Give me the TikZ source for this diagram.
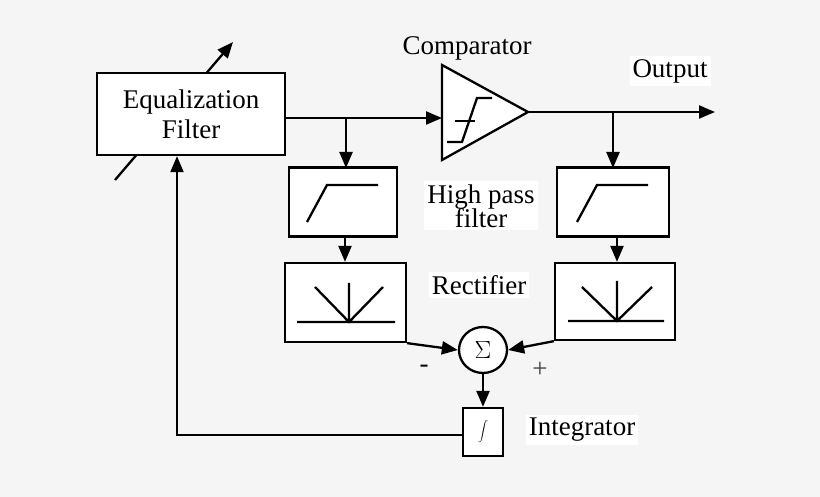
\documentclass[tikz,border=0pt]{standalone}
\usepackage{fontspec}
\setmainfont{Liberation Serif}
\usetikzlibrary{arrows.meta,shapes.geometric}
\begin{document}
\begin{tikzpicture}[x=1pt,y=-1pt,line width=2.3pt,
  blk/.style={draw,fill=white,inner sep=0pt},
  lbl/.style={fill=white,align=center,inner sep=3pt},
  arr/.style={-{Triangle[length=16pt,width=13pt]}},
  every node/.style={font=\fontsize{27}{30}\selectfont}]
\fill[black!4] (0,0) rectangle (820,497);
\useasboundingbox (0,0) rectangle (820,497);
% equalization filter
\coordinate (d1) at (115,180); \coordinate (d2) at (233,42);
\draw[arr] (d1) -- (d2);
\node[blk,minimum width=188pt,minimum height=82pt,align=center] (eq) at (191,114) {Equalization\\Filter};
% comparator
\coordinate (ca) at (442,65); \coordinate (cb) at (442,160); \coordinate (ct) at (528,112);
\draw[fill=white,line join=miter] (ca) -- (ct) -- (cb) -- cycle;
\draw (447,142) -- (462,142) -- (477,98) -- (492,98);
\draw (455,121) -- (475,121);
\node[lbl,fill=none] (cl) at (467,48) {Comparator};
\coordinate (cin) at (442,118);
\draw[arr] (eq.east |- 0,118) -- (cin);
\coordinate (out) at (715,112);
\draw[arr] (ct) -- (out);
\node[lbl] (ol) at (670,71) {Output};
% left branch
\node[blk,minimum width=108pt,minimum height=69pt] (hp1) at (343,202) {};
\draw (307,222) -- (327,185) -- (378,185);
\node[blk,minimum width=121pt,minimum height=79pt] (r1) at (345.5,302.5) {};
\draw (297,322) -- (395,322) (349,322) -- (349,283) (315,287) -- (349,322) -- (383,287);
\coordinate (b1) at (346,118);
\draw[arr] (b1) -- (346,168);
\draw[arr] (hp1.south -| 345,0) -- (r1.north -| 345,0);
% right branch
\node[blk,minimum width=112pt,minimum height=69pt] (hp2) at (613,202) {};
\draw (577,222) -- (597,185) -- (648,185);
\node[blk,minimum width=120pt,minimum height=77pt] (r2) at (615,301.5) {};
\draw (568,321) -- (664,321) (617,321) -- (617,281) (582,287) -- (617,321) -- (652,287);
\coordinate (b2) at (613,112);
\draw[arr] (b2) -- (613,168);
\draw[arr] (hp2.south -| 617,0) -- (r2.north -| 617,0);
% labels
\node[lbl] (hl) at (481,206) {High pass\\[-6pt]filter};
\node[lbl] (rl) at (479,285) {Rectifier};
% sum
\node[draw,fill=white,ellipse,minimum width=48pt,minimum height=46pt,inner sep=0pt] (s) at (483,350) {$\Sigma$};
\draw[arr] (r1.south east) -- (s.west);
\draw[arr] (r2.south west) -- (s.east);
\node (m) at (424,369) {-};
\node[text=black!75] (p) at (540,370) {+};
% integrator
\node[blk,minimum width=40pt,minimum height=48pt] (int) at (483,432) {$\displaystyle\int$};
\draw[arr] (s.south) -- (int.north);
\node[lbl] (il) at (582,430) {Integrator};
\coordinate (fb) at (177,435);
\draw[arr,line width=2pt] (int.west |- fb) -- (fb) -- (eq.south -| fb);
\end{tikzpicture}
\end{document}
